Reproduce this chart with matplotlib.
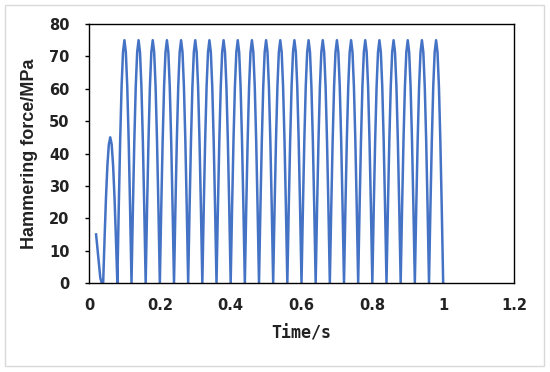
import matplotlib
matplotlib.use("Agg")
import matplotlib.pyplot as plt
import numpy as np
from matplotlib.patches import Rectangle
from matplotlib.ticker import FuncFormatter

# hammering force samples (MPa), every 4 ms from 0.02 s to 1.0 s
force = [
    15, 10.5, 6, 1.5, 0,
    0, 13.9, 26.5, 36.4, 42.8, 45, 42.8, 36.4, 26.5, 13.9,
    0, 23.2, 44.1, 60.7, 71.3, 75, 71.3, 60.7, 44.1, 23.2,
    0, 23.2, 44.1, 60.7, 71.3, 75, 71.3, 60.7, 44.1, 23.2,
    0, 23.2, 44.1, 60.7, 71.3, 75, 71.3, 60.7, 44.1, 23.2,
    0, 23.2, 44.1, 60.7, 71.3, 75, 71.3, 60.7, 44.1, 23.2,
    0, 23.2, 44.1, 60.7, 71.3, 75, 71.3, 60.7, 44.1, 23.2,
    0, 23.2, 44.1, 60.7, 71.3, 75, 71.3, 60.7, 44.1, 23.2,
    0, 23.2, 44.1, 60.7, 71.3, 75, 71.3, 60.7, 44.1, 23.2,
    0, 23.2, 44.1, 60.7, 71.3, 75, 71.3, 60.7, 44.1, 23.2,
    0, 23.2, 44.1, 60.7, 71.3, 75, 71.3, 60.7, 44.1, 23.2,
    0, 23.2, 44.1, 60.7, 71.3, 75, 71.3, 60.7, 44.1, 23.2,
    0, 23.2, 44.1, 60.7, 71.3, 75, 71.3, 60.7, 44.1, 23.2,
    0, 23.2, 44.1, 60.7, 71.3, 75, 71.3, 60.7, 44.1, 23.2,
    0, 23.2, 44.1, 60.7, 71.3, 75, 71.3, 60.7, 44.1, 23.2,
    0, 23.2, 44.1, 60.7, 71.3, 75, 71.3, 60.7, 44.1, 23.2,
    0, 23.2, 44.1, 60.7, 71.3, 75, 71.3, 60.7, 44.1, 23.2,
    0, 23.2, 44.1, 60.7, 71.3, 75, 71.3, 60.7, 44.1, 23.2,
    0, 23.2, 44.1, 60.7, 71.3, 75, 71.3, 60.7, 44.1, 23.2,
    0, 23.2, 44.1, 60.7, 71.3, 75, 71.3, 60.7, 44.1, 23.2,
    0, 23.2, 44.1, 60.7, 71.3, 75, 71.3, 60.7, 44.1, 23.2,
    0, 23.2, 44.1, 60.7, 71.3, 75, 71.3, 60.7, 44.1, 23.2,
    0, 23.2, 44.1, 60.7, 71.3, 75, 71.3, 60.7, 44.1, 23.2,
    0, 23.2, 44.1, 60.7, 71.3, 75, 71.3, 60.7, 44.1, 23.2,
    0, 23.2, 44.1, 60.7, 71.3, 75, 71.3, 60.7, 44.1, 23.2,
    0,
]
time = np.round(np.linspace(0.02, 1.0, len(force)), 3)

x_ticks = [0, 0.2, 0.4, 0.6, 0.8, 1.0, 1.2]
y_ticks = [0, 10, 20, 30, 40, 50, 60, 70, 80]

fig = plt.figure(figsize=(5.5, 3.72), dpi=100)
fig.patches.append(Rectangle((5 / 550, 6 / 372), 539 / 550, 361 / 372,
                             transform=fig.transFigure, fill=False,
                             edgecolor="#d9d9d9", linewidth=1.0))
ax = fig.add_axes([89 / 550, 1 - 283 / 372, 425 / 550, 259 / 372])

ax.plot(time, force, color="#4472C4", linewidth=1.8)

ax.set_xlim(0, 1.2)
ax.set_ylim(0, 80)
ax.set_xticks(x_ticks)
ax.set_yticks(y_ticks)
ax.xaxis.set_major_formatter(FuncFormatter(lambda v, p: f"{v:g}"))

for s in ax.spines.values():
    s.set_color("black")
    s.set_linewidth(1.0)
ax.tick_params(axis="x", length=0, pad=11)
ax.tick_params(axis="y", direction="out", length=3, width=1, pad=11)
for lab in ax.get_xticklabels() + ax.get_yticklabels():
    lab.set_fontfamily("DejaVu Sans")
    lab.set_fontweight("bold")
    lab.set_fontsize(10.5)
    lab.set_color("#222222")

ax.set_xlabel("Time/s", fontfamily="DejaVu Sans Mono", fontweight="bold",
              fontsize=12, color="#222222")
ax.xaxis.set_label_coords(0.5, -(333 - 283) / 259, transform=ax.transAxes)
ax.set_ylabel("Hammering force/MPa", fontfamily="Liberation Sans", fontweight="bold",
              fontsize=13, color="#222222")
ax.yaxis.set_label_coords(-(89 - 30) / 425, 0.5, transform=ax.transAxes)
ax.yaxis.label.set_va("center")
ax.xaxis.label.set_va("center")

fig.savefig("out.png", dpi=100)
